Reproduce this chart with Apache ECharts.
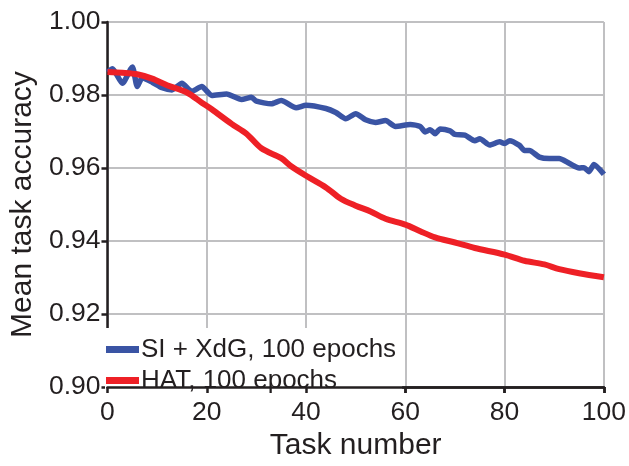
<!DOCTYPE html>
<html>
<head>
<meta charset="utf-8">
<script src="https://cdn.jsdelivr.net/npm/echarts@6/dist/echarts.min.js"></script>
<style>html,body{margin:0;padding:0;background:#fff;}#c{width:629px;height:466px;}</style>
</head>
<body>
<div id="c"></div>
<script>
var xTicks = [0, 20, 40, 60, 80, 100];
var yTicks = [0.90, 0.92, 0.94, 0.96, 0.98, 1.00];

var blueTasks = [0,1,3,5,6,7,9,11,13,15,17,19,21,24,27,29,30,33,35,38,40,44,46,48,50,52,54,56,58,61,63,64,65,66,67,69,70,72,74,75,77,79,80,81,83,84,85,87,89,91,93,95,96,97,98,100];
var blueVals = [0.9863,0.9872,0.9832,0.9877,0.9823,0.9847,0.9835,0.9820,0.9814,0.9832,0.9810,0.9823,0.9799,0.9803,0.9788,0.9794,0.9783,0.9776,0.9785,0.9765,0.9772,0.9763,0.9752,0.9735,0.9749,0.9732,0.9725,0.9730,0.9714,0.9719,0.9714,0.9699,0.9705,0.9694,0.9707,0.9702,0.9692,0.9690,0.9675,0.9680,0.9663,0.9672,0.9667,0.9675,0.9662,0.9648,0.9648,0.9630,0.9626,0.9626,0.9613,0.9600,0.9601,0.9590,0.9610,0.9583];

var redTasks = [0,3,6,9,12,16,19,21,25,28,31,35,37,40,44,47,50,53,56,60,63,66,70,74,80,84,88,91,95,100];
var redVals = [0.9863,0.9861,0.9857,0.9845,0.9827,0.9807,0.9779,0.9761,0.9721,0.9694,0.9654,0.9627,0.9605,0.9579,0.9547,0.9516,0.9497,0.9481,0.9461,0.9445,0.9427,0.9410,0.9396,0.9381,0.9363,0.9346,0.9336,0.9323,0.9312,0.9301];

var seriesNames = ['SI + XdG, 100 epochs', 'HAT, 100 epochs'];
var seriesColors = ['#3a54a4', '#ee2026'];

function pairs(xs, ys) { return xs.map(function (x, i) { return [x, ys[i]]; }); }

var font = 'Liberation Sans, Arial, Helvetica, sans-serif';
var ink = '#231f20';
var chart = echarts.init(document.getElementById('c'));
chart.setOption({
  animation: false,
  backgroundColor: '#fff',
  grid: { left: 103, right: 14, top: 22, bottom: 69, containLabel: false },
  legend: {
    orient: 'vertical',
    left: 105, top: 328,
    z: 4,
    backgroundColor: '#fff',
    padding: [8, 6, 0, 1],
    itemGap: 4,
    itemWidth: 33, itemHeight: 7,
    icon: 'rect',
    textStyle: { fontFamily: font, fontSize: 26, lineHeight: 27, color: ink, padding: [0, 0, 0, -3] },
    data: seriesNames
  },
  xAxis: [{
    type: 'value', min: xTicks[0], max: xTicks[xTicks.length - 1], interval: 20, z: 0,
    name: 'Task number', nameLocation: 'middle', nameGap: 41,
    nameTextStyle: { fontFamily: font, fontSize: 30, color: ink },
    axisLine: { show: true, lineStyle: { color: ink, width: 2.5 } },
    axisTick: { show: true, inside: false, length: 6, lineStyle: { color: ink, width: 2.5 } },
    axisLabel: { fontFamily: font, fontSize: 26.5, color: ink, margin: 12 },
    splitLine: { show: true, lineStyle: { color: '#c0c0c2', width: 2 } }
  }, {
    type: 'value', position: 'bottom', min: xTicks[0], max: xTicks[xTicks.length - 1], interval: 20, z: 8,
    axisLine: { show: true, onZero: false, lineStyle: { color: ink, width: 2.5 } },
    axisTick: { show: true, inside: false, length: 6, lineStyle: { color: ink, width: 2.5 } },
    axisLabel: { show: false },
    splitLine: { show: false }
  }],
  yAxis: {
    type: 'value', min: yTicks[0], max: yTicks[yTicks.length - 1], interval: 0.02,
    name: 'Mean task accuracy', nameLocation: 'middle', nameGap: 64,
    nameTextStyle: { fontFamily: font, fontSize: 30, color: ink },
    axisLine: { show: true, lineStyle: { color: ink, width: 2.5 } },
    axisTick: { show: true, inside: false, length: 6, lineStyle: { color: ink, width: 2.5 } },
    axisLabel: { fontFamily: font, fontSize: 26.5, color: ink, margin: 7,
      formatter: function (v) { return v.toFixed(2); } },
    splitLine: { show: true, lineStyle: { color: '#c0c0c2', width: 2 } }
  },
  series: [
    { name: seriesNames[0], type: 'line', data: pairs(blueTasks, blueVals), showSymbol: false, smooth: 0.2,
      lineStyle: { color: seriesColors[0], width: 5.5 }, itemStyle: { color: seriesColors[0] }, z: 3 },
    { name: seriesNames[1], type: 'line', data: pairs(redTasks, redVals), showSymbol: false, smooth: 0.3,
      lineStyle: { color: seriesColors[1], width: 6 }, itemStyle: { color: seriesColors[1] }, z: 4 }
  ]
});
</script>
</body>
</html>
